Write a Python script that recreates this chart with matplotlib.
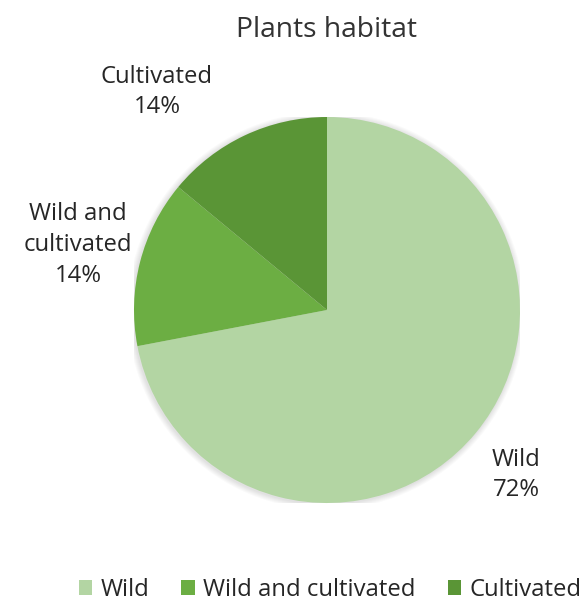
import matplotlib.pyplot as plt
from matplotlib.patches import Patch, Circle

categories = ["Wild", "Wild and cultivated", "Cultivated"]
shares = [72, 14, 14]
colors = ["#b3d5a3", "#6cae43", "#5a9536"]
label_texts = ["Wild\n72%", "Wild and\ncultivated\n14%", "Cultivated\n14%"]
text_color = "#262626"

plt.rcParams["font.family"] = ["Open Sans", "DejaVu Sans"]

W, H = 587, 605
fig = plt.figure(figsize=(W / 100, H / 100), dpi=100)

# pie centre ~ (327, 310) px, radius ~193 px
cx, cy, r = 327, 310, 193
ax = fig.add_axes([(cx - r) / W, (H - cy - r) / H, 2 * r / W, 2 * r / H])

# soft shadow behind the disc
for k in range(6):
    ax.add_patch(Circle((-0.004, -0.004), 1.0 + 0.005 * (k + 1), facecolor="black",
                        edgecolor="none", alpha=0.018, zorder=0))

wedges, _ = ax.pie(shares, colors=colors, startangle=90, counterclock=False,
                   radius=1.0, wedgeprops=dict(linewidth=0, zorder=1))
ax.set_xlim(-1, 1)
ax.set_ylim(-1, 1)
ax.set_aspect("equal")
ax.axis("off")

fig.text(cx / W, 1 - 30 / H, "Plants habitat", ha="center", va="center",
         fontsize=20.3, color="#333333")

label_pos = [(516, 475), (78, 245), (157, 92)]
for txt, (x, y) in zip(label_texts, label_pos):
    fig.text(x / W, 1 - y / H, txt, ha="center", va="center", fontsize=17.2,
             color=text_color, linespacing=1.38)

handles = [Patch(facecolor=c, edgecolor="none") for c in colors]
fig.legend(handles, categories, loc="center", bbox_to_anchor=(330 / W, 1 - 590 / H),
           ncol=3, frameon=False, fontsize=17.2, handlelength=0.55, handleheight=0.55,
           handletextpad=0.35, columnspacing=1.35, labelcolor=text_color,
           borderpad=0, borderaxespad=0)

fig.savefig("out.png", dpi=100)
